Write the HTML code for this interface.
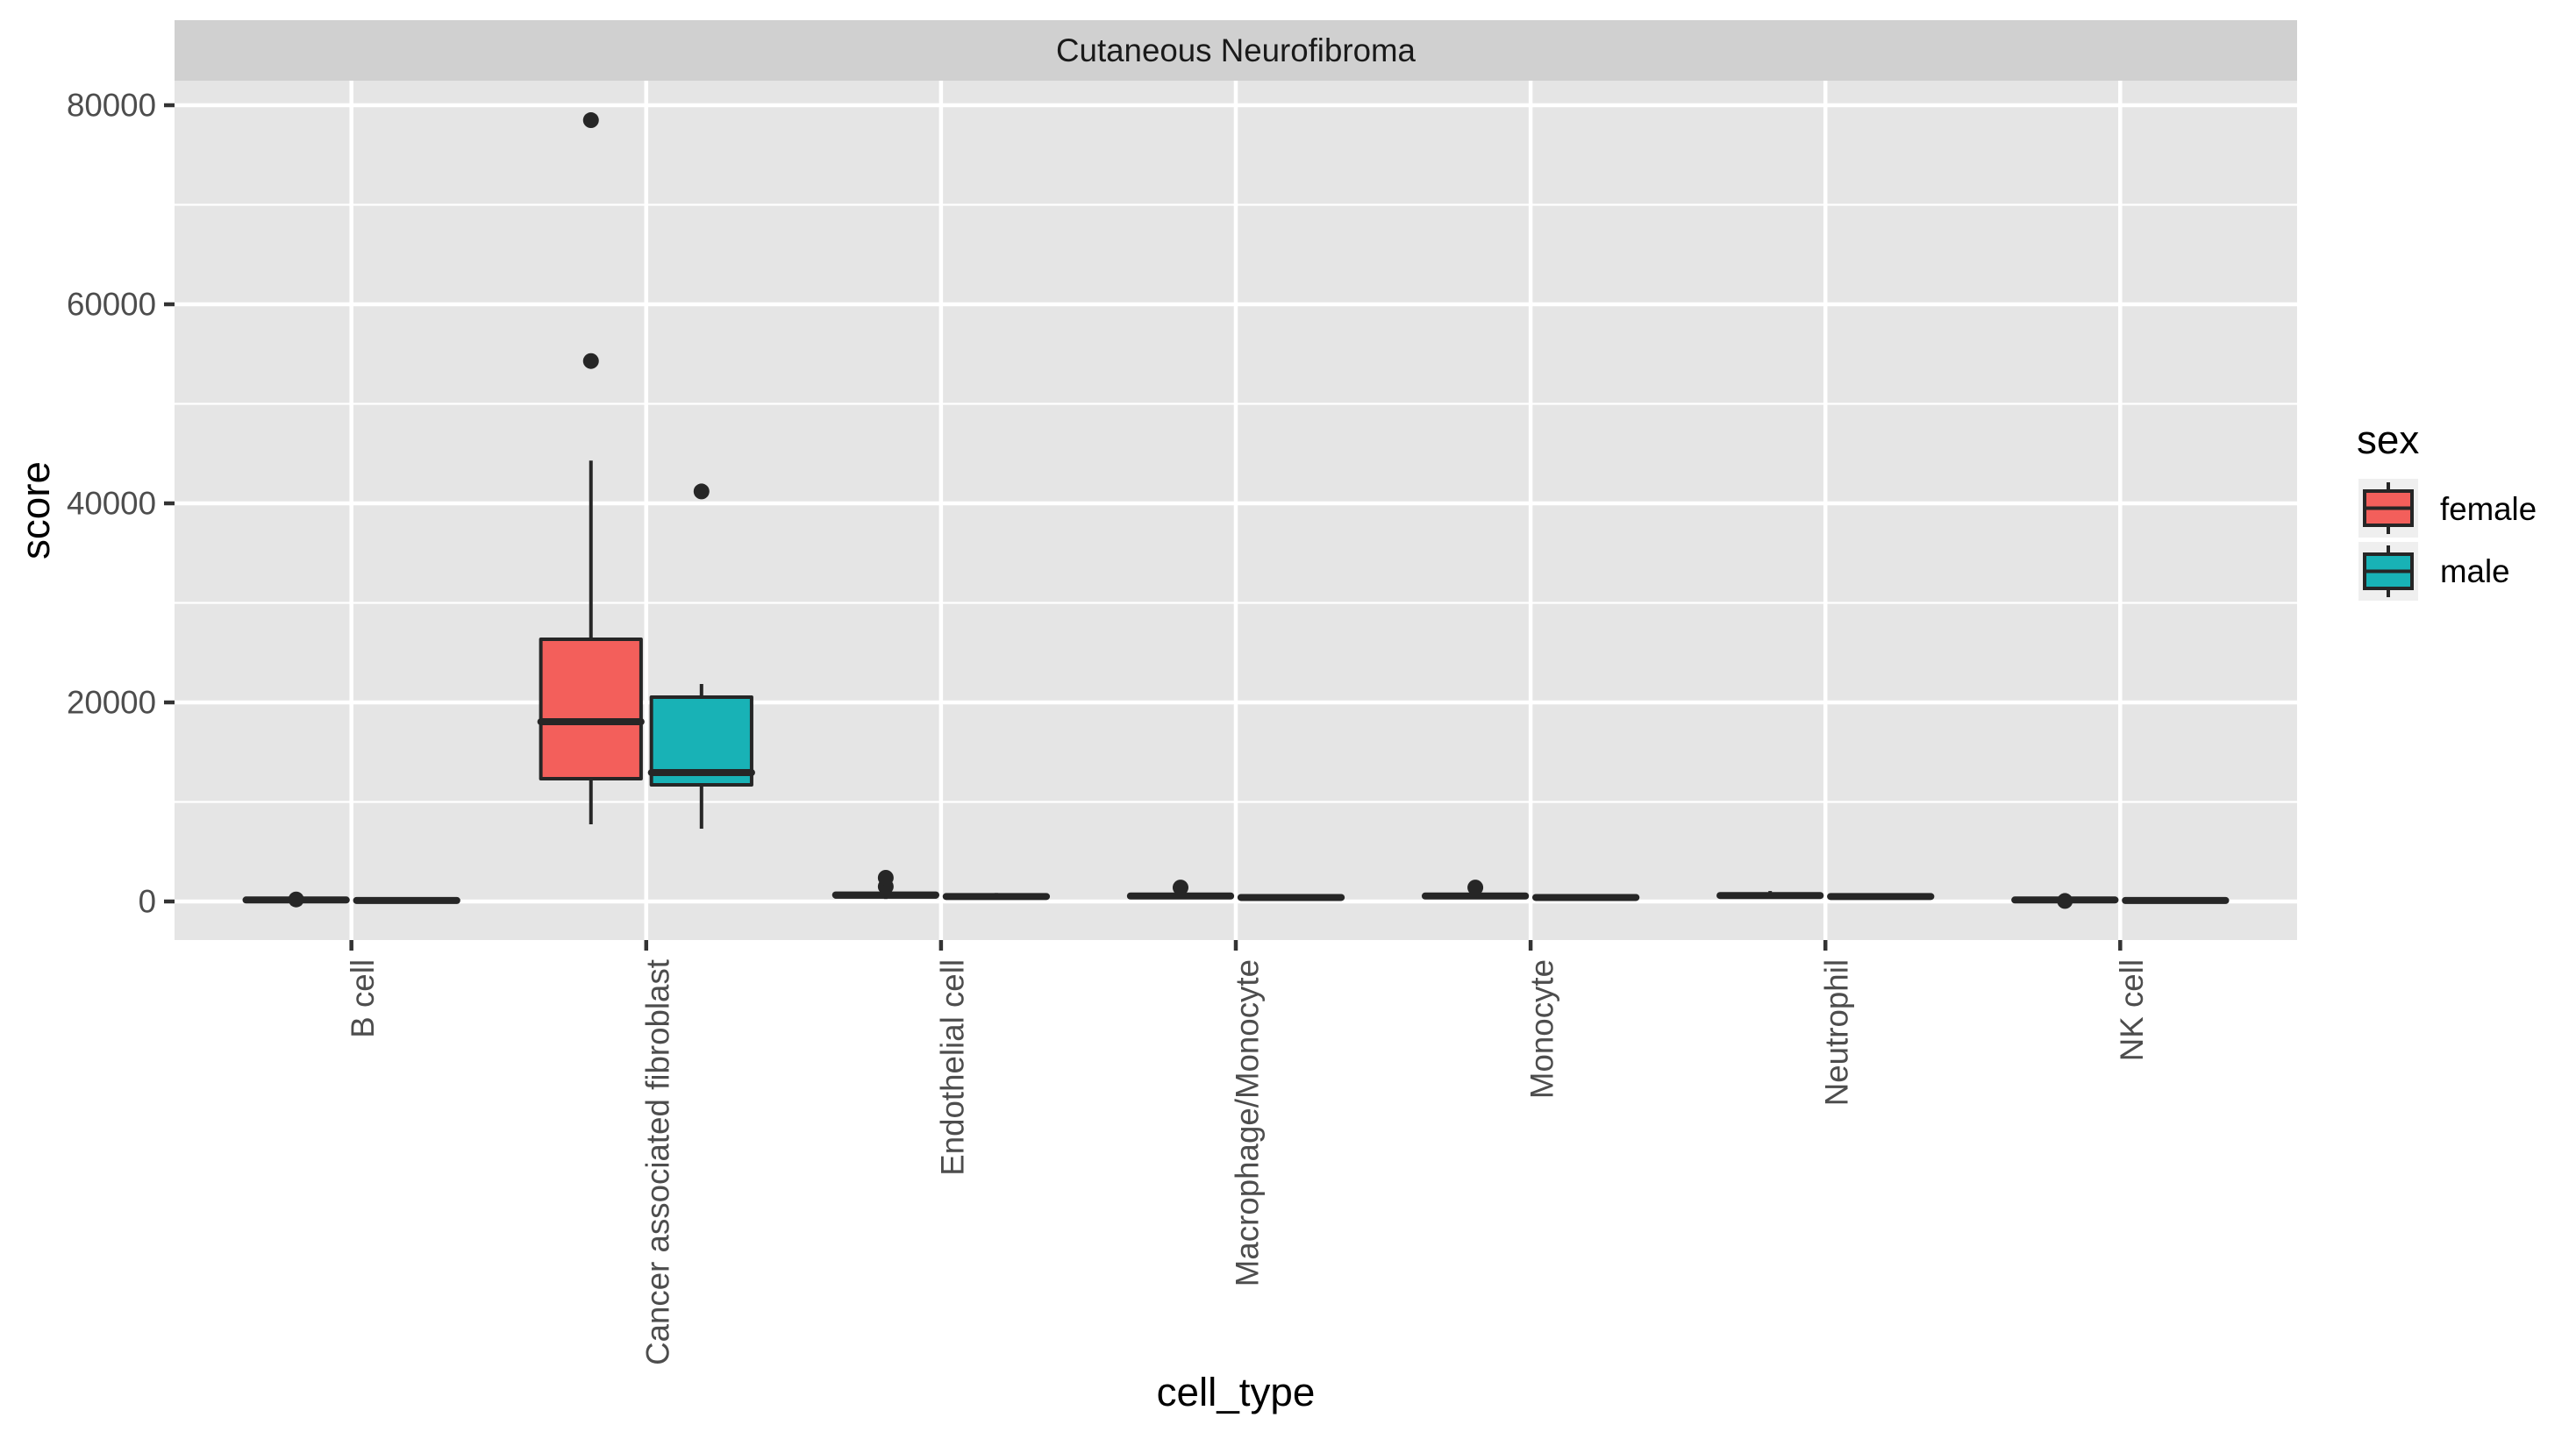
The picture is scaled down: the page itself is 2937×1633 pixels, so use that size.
<!DOCTYPE html>
<html><head><meta charset="utf-8"><style>
html,body{margin:0;padding:0;background:#fff;}
svg{display:block;font-family:"Liberation Sans",Arial,sans-serif;}
</style></head><body>
<svg id="chart" width="2937" height="1633" viewBox="0 0 2937 1633" xmlns="http://www.w3.org/2000/svg">
<rect x="0" y="0" width="2937" height="1633" fill="#fff"/>
<rect x="199" y="23" width="2420" height="69" fill="#D0D0D0"/>
<text x="1409" y="57.5" font-size="36.7" fill="#1A1A1A" text-anchor="middle" dominant-baseline="central">Cutaneous Neurofibroma</text>
<rect x="199" y="92" width="2420" height="980" fill="#E5E5E5"/>
<g id="grid"></g>
<g id="marks"></g>
<g id="axes"></g>
<text transform="translate(56,582) rotate(-90)" font-size="45.8" fill="#000" text-anchor="middle">score</text>
<text x="1409" y="1603" font-size="45.8" fill="#000" text-anchor="middle">cell_type</text>
<g>
<text x="2687" y="517" font-size="45.8" fill="#000">sex</text>
<g>
<rect x="2689" y="546" width="68" height="67" fill="#EFEFEF"/>
<line x1="2723" y1="550" x2="2723" y2="609" stroke="#262626" stroke-width="4"/>
<rect x="2696" y="560" width="54" height="39" fill="#F35F5B" stroke="#262626" stroke-width="4"/>
<line x1="2696" y1="579.5" x2="2750" y2="579.5" stroke="#262626" stroke-width="4"/>
<text x="2782" y="593" font-size="36.7" fill="#000">female</text>
</g>
<g>
<rect x="2689" y="618" width="68" height="67" fill="#EFEFEF"/>
<line x1="2723" y1="622" x2="2723" y2="681" stroke="#262626" stroke-width="4"/>
<rect x="2696" y="632" width="54" height="39" fill="#18B2B6" stroke="#262626" stroke-width="4"/>
<line x1="2696" y1="651.5" x2="2750" y2="651.5" stroke="#262626" stroke-width="4"/>
<text x="2782" y="664" font-size="36.7" fill="#000">male</text>
</g>
</g>
</svg>
<script>
const categories = ["B cell","Cancer associated fibroblast","Endothelial cell","Macrophage/Monocyte","Monocyte","Neutrophil","NK cell"];
const yTicks = [0,20000,40000,60000,80000];
const yTickLabels = ["0","20000","40000","60000","80000"];
// [lowerWhisker, q1, median, q3, upperWhisker] per category
const femaleStats = [[0,50,150,250,350],[7750,12330,18060,26340,44300],[250,450,650,800,1000],[250,400,550,700,900],[250,400,550,700,900],[300,450,600,750,1050],[0,50,150,250,350]];
const maleStats = [[0,30,100,200,300],[7310,11720,12950,20530,21850],[200,350,500,650,850],[150,300,400,550,750],[150,300,400,550,750],[200,350,500,650,800],[0,30,100,200,300]];
const femaleOutliers = [[200],[54300,78500],[1500,2380],[1400],[1400],[],[50]];
const maleOutliers = [[],[41200],[],[],[],[],[]];

const NS="http://www.w3.org/2000/svg";
const pl=199, pr=2619, y0px=1028, pxPerUnit=908/80000;
const yS=v=>y0px-v*pxPerUnit;
const step=(pr-pl)/(categories.length-1+1.2);
const xS=i=>pl+0.6*step+i*step;
const off=step*0.1875, bw=step*0.34;
function mk(tag,attrs,parent){const e=document.createElementNS(NS,tag);for(const k in attrs)e.setAttribute(k,attrs[k]);parent.appendChild(e);return e;}
const grid=document.getElementById('grid'), marks=document.getElementById('marks'), axes=document.getElementById('axes');
for(let i=0;i<yTicks.length-1;i++){const v=(yTicks[i]+yTicks[i+1])/2;
 const l=mk('line',{x1:pl,x2:pr,y1:yS(v),y2:yS(v),stroke:'#fff','stroke-width':2.3},grid);
 
 }
yTicks.forEach((v,i)=>{
 const l=mk('line',{x1:pl,x2:pr,y1:yS(v),y2:yS(v),stroke:'#fff','stroke-width':4.5},grid);
 
 
 const t=mk('line',{x1:187,x2:199,y1:yS(v),y2:yS(v),stroke:'#333','stroke-width':4.5},axes);
 
 
 const tx=mk('text',{x:178,y:yS(v),'font-size':36.7,fill:'#4D4D4D','text-anchor':'end','dominant-baseline':'central'},axes);
 tx.textContent=yTickLabels[i];
 
 
});
categories.forEach((c,i)=>{
 const x=xS(i);
 const l=mk('line',{x1:x,x2:x,y1:92,y2:1072,stroke:'#fff','stroke-width':4.5},grid);
 
 
 const t=mk('line',{x1:x,x2:x,y1:1072,y2:1084,stroke:'#333','stroke-width':4.5},axes);
 
 
 const tx=mk('text',{transform:`translate(${x+13},1094) rotate(-90)`,'font-size':36.7,fill:'#4D4D4D','text-anchor':'end','dominant-baseline':'central'},axes);
 tx.textContent=c;
 
 
});
function drawBox(stats,outs,cx,fill,name){
 const [lw,q1,md,q3,uw]=stats;
 const g=mk('g',{},marks);
 
 
 mk('line',{x1:cx,x2:cx,y1:yS(uw),y2:yS(q3),stroke:'#262626','stroke-width':4},g);
 mk('line',{x1:cx,x2:cx,y1:yS(q1),y2:yS(lw),stroke:'#262626','stroke-width':4},g);
 mk('rect',{x:cx-bw/2,y:yS(q3),width:bw,height:Math.max(0.5,yS(q1)-yS(q3)),fill:fill,stroke:'#262626','stroke-width':4,'stroke-linejoin':'round'},g);
 mk('line',{x1:cx-bw/2,x2:cx+bw/2,y1:yS(md),y2:yS(md),stroke:'#262626','stroke-width':8,'stroke-linecap':'round'},g);
 outs.forEach(v=>{
  const p=mk('circle',{cx:cx,cy:yS(v),r:9,fill:'#262626'},g);
  
  
 });
}
categories.forEach((c,i)=>{
 drawBox(femaleStats[i],femaleOutliers[i],xS(i)-off,'#F35F5B','box-female');
 drawBox(maleStats[i],maleOutliers[i],xS(i)+off,'#18B2B6','box-male');
});
</script>
</body></html>
